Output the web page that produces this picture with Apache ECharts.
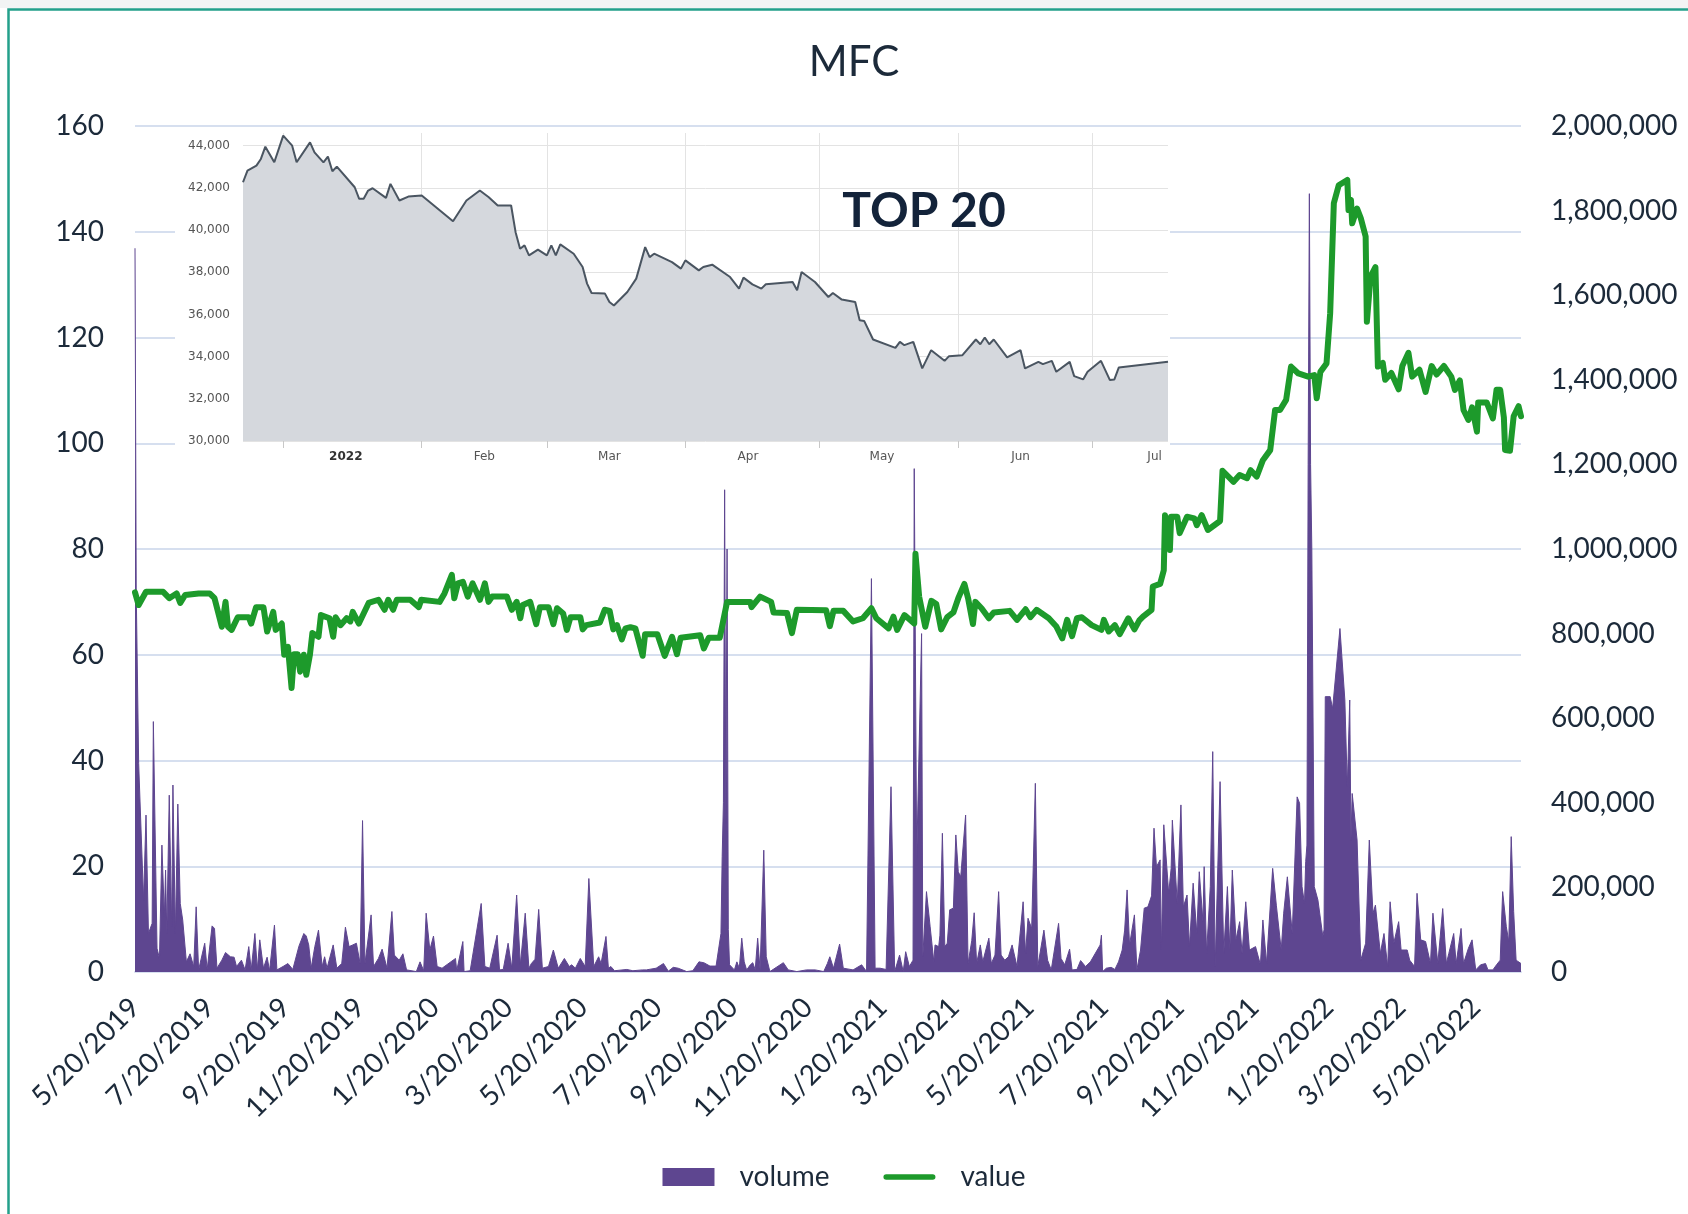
<!DOCTYPE html>
<html>
<head>
<meta charset="utf-8">
<title>MFC</title>
<script src="https://cdn.jsdelivr.net/npm/echarts@6/dist/echarts.min.js"></script>
<style>
  html, body { margin: 0; padding: 0; background: #fff; }
  #chart { width: 1688px; height: 1214px; }
</style>
</head>
<body>
<div id="chart"></div>
<script>
// main chart: one category per calendar day, 5/20/2019 .. 7/6/2022
const startDay = Date.UTC(2019, 4, 20);
const dayCount = 1134;
const labelMonths = [1, 3, 5, 7, 9, 11]; // x labels on the 20th of these months

// value (left axis) - day offset / value
const valueDays = [0,3,9,23,28,34,37,41,52,61,65,71,74,76,79,84,93,95,99,105,
  108,113,115,120,122,125,128,130,133,135,138,140,143,145,150,152,159,162,164,168,
  173,176,178,183,191,199,204,207,211,214,225,232,234,249,253,259,261,264,268,272,
  276,282,286,289,292,304,308,312,315,317,323,328,331,338,342,345,350,353,356,364,
  366,369,380,384,388,391,394,398,401,405,409,415,417,427,433,439,443,446,462,465,
  469,478,484,503,504,511,520,522,533,537,541,565,568,571,579,587,595,602,606,616,
  620,623,629,637,638,641,646,651,655,659,664,669,673,678,681,685,687,692,698,702,
  715,721,728,732,737,747,753,758,762,766,770,774,782,790,792,796,801,805,812,817,
  821,824,831,832,838,841,842,846,847,852,854,860,866,868,872,877,887,889,898,903,
  909,912,917,922,928,932,936,941,945,951,959,964,966,969,974,977,980,984,991,992,
  994,995,999,1002,1006,1007,1010,1014,1016,1020,1022,1027,1033,1036,1041,1044,1050,1055,1060,1064,
  1070,1076,1079,1083,1086,1090,1093,1097,1098,1105,1110,1113,1116,1119,1120,1124,1127,1131,1133];
const valueVals = [71.8,69.4,71.9,71.9,70.7,71.6,69.8,71.3,71.6,71.6,70.7,65.3,70.0,65.3,64.7,67.1,67.1,65.9,69.0,69.0,
  64.4,68.1,64.7,65.9,60.0,61.5,53.7,60.1,60.1,56.8,60.0,56.2,60.0,64.1,63.4,67.5,66.9,63.4,67.1,65.6,
  66.9,66.3,68.1,65.9,69.8,70.4,68.5,70.4,68.5,70.4,70.4,69.0,70.4,70.0,71.6,75.1,70.7,73.5,73.8,71.0,
  73.5,70.4,73.5,70.0,71.0,71.0,68.5,70.0,66.9,69.4,70.0,65.8,69.0,69.0,65.8,68.8,67.8,64.7,67.1,67.1,
  64.8,65.6,66.1,68.5,68.3,64.8,65.6,62.9,65.0,65.2,65.0,59.8,63.9,63.9,59.8,63.4,60.1,63.2,63.7,61.2,
  63.2,63.2,70.0,70.0,69.0,71.0,70.0,68.0,67.9,64.1,68.5,68.4,65.4,68.3,68.3,66.3,66.9,68.8,66.9,65.0,
  67.2,64.7,67.5,65.9,79.1,71.0,65.3,70.2,69.6,64.8,67.1,68.0,70.7,73.4,70.7,65.8,70.0,68.8,66.9,68.0,
  68.3,66.6,68.6,67.1,68.5,66.9,65.4,63.1,66.6,63.5,66.9,67.1,65.6,64.7,66.6,64.4,65.6,63.9,66.9,64.8,
  66.5,67.2,68.5,72.9,73.4,76.0,86.4,79.8,86.1,86.1,83.0,86.1,85.8,84.5,86.4,83.6,85.3,94.8,92.7,94.0,
  93.4,94.9,93.7,96.8,98.7,106.3,106.3,108.2,114.5,113.2,112.6,112.9,108.5,113.5,115.1,124.6,145.4,148.8,149.8,144.1,
  146.0,141.6,144.4,142.6,139.1,123.0,131.5,133.3,114.5,115.2,112.0,113.3,110.2,114.6,117.1,112.6,113.9,109.7,114.6,113.0,
  114.6,112.6,110.1,111.9,106.3,104.4,106.8,102.2,107.7,107.7,104.7,110.1,110.1,104.9,98.7,98.6,105.1,107.0,105.1];

// volume (right axis) - day offset / thousands of shares
const volumeDays = [0,1,3,7,9,11,14,15,18,20,22,24,25,26,28,30,31,33,35,37,
  39,42,45,48,50,52,57,59,63,65,67,71,74,78,81,83,87,90,93,95,
  98,100,102,105,108,110,114,116,121,125,129,134,138,140,142,144,147,150,153,155,
  157,162,165,169,172,175,178,181,184,186,188,193,195,199,202,206,210,212,216,219,
  222,230,233,236,238,241,244,247,251,262,263,268,269,274,283,286,290,296,298,301,
  305,308,312,315,319,322,324,327,330,333,338,342,346,351,355,357,360,364,368,371,
  375,379,381,385,387,389,392,402,407,415,418,426,432,436,440,444,451,456,461,465,
  470,475,479,480,481,482,483,484,485,486,490,492,494,496,498,500,503,505,507,509,
  511,514,516,519,530,534,541,549,556,563,566,568,571,576,579,587,594,598,602,605,
  609,614,618,621,625,628,630,633,636,637,639,643,644,647,650,653,654,657,658,660,
  662,664,666,669,671,673,675,679,681,684,686,688,691,693,698,700,703,706,708,711,
  714,717,721,726,728,730,733,736,738,743,746,749,755,757,760,764,766,770,773,777,
  781,789,790,791,794,798,801,804,807,809,811,813,817,819,822,825,828,831,833,835,
  838,839,841,845,847,848,852,855,857,860,862,865,868,870,873,874,876,879,881,883,
  887,890,893,895,897,900,903,905,908,911,916,920,922,925,930,933,937,939,942,946,
  950,952,954,956,957,958,959,960,961,962,964,967,971,972,973,977,979,985,989,991,
  993,994,995,999,1002,1006,1009,1012,1014,1018,1021,1024,1026,1029,1033,1035,1040,1042,1046,1048,
  1051,1055,1059,1061,1065,1069,1072,1074,1078,1080,1084,1086,1090,1093,1096,1100,1104,1106,1110,1113,
  1116,1118,1121,1123,1125,1127,1129,1133];
const volumeK = [1711,900,493,170,371,91,115,592,56,32,300,131,241,91,418,107,442,91,397,162,
  123,24,43,13,154,5,68,6,109,103,9,28,46,36,35,13,28,5,60,5,
  91,6,76,9,35,3,111,5,13,20,6,61,91,85,64,9,60,99,13,36,
  9,64,9,20,106,60,64,68,20,358,20,135,13,32,54,9,143,40,28,43,
  5,1,24,3,139,52,85,13,9,32,3,72,1,3,162,13,9,87,5,6,
  68,9,182,17,139,9,20,30,148,9,13,52,9,32,13,17,9,32,13,221,
  13,36,20,84,9,13,3,6,3,5,5,9,20,2,11,9,1,3,24,22,
  14,14,91,273,400,1140,350,1000,100,17,5,24,9,80,24,5,17,22,5,80,
  5,288,36,1,22,5,1,5,5,1,20,36,9,66,9,5,17,1,930,9,
  9,6,438,1,40,1,48,13,28,1190,265,800,36,190,107,24,64,60,87,328,
  60,68,147,151,324,237,225,371,20,74,140,20,64,24,80,20,40,190,40,28,
  36,64,13,166,44,127,103,446,13,99,28,5,115,32,17,54,5,6,27,13,
  24,64,87,1,9,11,6,24,52,99,194,64,135,5,52,151,154,180,340,249,
  265,52,348,186,245,359,162,395,154,182,60,210,91,237,119,249,44,202,521,13,
  450,44,202,52,241,76,119,44,166,52,60,17,123,20,245,158,52,139,225,91,
  414,399,202,162,261,300,1200,1840,1200,1000,202,170,84,100,651,651,623,812,643,438,
  643,312,422,312,28,68,312,139,158,44,91,13,166,68,119,52,52,28,13,186,
  76,72,20,139,20,150,20,44,91,20,103,20,56,76,5,17,20,5,5,17,
  28,190,107,72,320,143,28,20];

// inset "TOP 20" picture: one category per day, 12/23/2021 .. 7/18/2022
const insetStart = Date.UTC(2021, 11, 23);
const insetCount = 208;
const insetMonthNames = ['2022', 'Feb', 'Mar', 'Apr', 'May', 'Jun', 'Jul'];
// day offset from 1/1/2022 / index level
const insetDays = [-9,-8,-6,-5,-4,-2,0,2,3,6,7,9,10,11,12,16,17,18,19,20,
  23,24,26,28,31,38,41,44,46,48,51,52,53,54,55,57,59,60,61,62,
  65,67,68,69,72,73,74,77,79,81,82,83,87,89,90,93,94,96,100,102,
  103,105,107,108,114,115,116,119,122,123,125,128,129,130,132,137,138,139,141,143,
  145,148,149,152,155,156,157,158,159,162,165,166,169,170,172,173,176,177,179,180,
  183,185,186,187,198];
const insetVals = [42265,42818,43054,43370,43953,43211,44473,44000,43211,44157,43683,43211,43480,42785,43007,42028,41479,41479,41872,41981,
  41527,42189,41400,41588,41636,40420,41400,41872,41555,41163,41163,39900,39115,39271,38798,39068,38798,39271,38798,39318,
  38878,38245,37460,37016,36987,36590,36420,37063,37696,39190,38717,38878,38481,38170,38562,38088,38245,38358,37772,37223,
  37743,37426,37223,37426,37536,37143,38008,37536,36826,37016,36703,36590,35725,35692,34812,34414,34698,34542,34698,33440,
  34306,33800,34022,34069,34812,34589,34906,34589,34812,33960,34306,33440,33752,33643,33800,33280,33752,33076,32920,33279,
  33800,32887,32920,33487,33752];

const navy = '#1c2a3a';
const font = 'Lato';
const DAY = 86400000;

const dates = [];
for (let i = 0; i < dayCount; i++) dates.push(new Date(startDay + i * DAY));
const categories = dates.map(d => (d.getUTCMonth() + 1) + '/' + d.getUTCDate() + '/' + d.getUTCFullYear());
const isLabelDay = i => dates[i].getUTCDate() === 20 && labelMonths.indexOf(dates[i].getUTCMonth() + 1) >= 0;

const insetDates = [];
for (let i = 0; i < insetCount; i++) insetDates.push(new Date(insetStart + i * DAY));
const insetCats = insetDates.map(d => d.toISOString().slice(0, 10));
const insetOffset = 9; // index of 1/1/2022

const valueData = valueDays.map((d, i) => [d, valueVals[i]]);
const volumeData = volumeDays.map((d, i) => [d, volumeK[i] * 1000]);
const insetData = insetDays.map((d, i) => [d + insetOffset, insetVals[i]]);

const chart = echarts.init(document.getElementById('chart'));

const option = {
  backgroundColor: '#fff',
  animation: false,
  title: {
    text: 'MFC',
    left: 849,
    textAlign: 'center',
    top: 36,
    textStyle: { fontFamily: font, fontSize: 42, fontWeight: 'normal', color: navy }
  },
  legend: {
    top: 1158,
    left: 'center',
    itemWidth: 52,
    itemHeight: 18,
    itemGap: 54,
    textStyle: { fontFamily: font, fontSize: 28, color: navy, padding: [0, 0, 0, 20] },
    data: [
      { name: 'volume', icon: 'rect' },
      { name: 'value', icon: 'path://M3,0H53A3,3 0 0 1 53,6H3A3,3 0 0 1 3,0Z' }
    ]
  },
  grid: [
    { left: 135, right: 167, top: 126, bottom: 242 },
    { left: 243, top: 133, width: 925, height: 308 }
  ],
  xAxis: [
    {
      type: 'category',
      gridIndex: 0,
      data: categories,
      boundaryGap: false,
      axisLine: { lineStyle: { color: '#d6dfef', width: 2 } },
      axisTick: { show: false },
      splitLine: { show: false },
      axisLabel: {
        interval: (i) => isLabelDay(i),
        rotate: 45,
        margin: 31,
        fontFamily: font,
        fontSize: 28,
        color: navy
      }
    },
    {
      type: 'category',
      gridIndex: 1,
      data: insetCats,
      boundaryGap: false,
      z: 6,
      axisLine: { show: false },
      axisTick: {
        interval: (i) => insetDates[i].getUTCDate() === 1,
        length: 7,
        lineStyle: { color: '#c8c8c8' }
      },
      splitLine: {
        show: true,
        interval: (i) => insetDates[i].getUTCDate() === 1,
        lineStyle: { color: '#e3e3e3', width: 1 }
      },
      axisLabel: {
        interval: (i) => insetDates[i].getUTCDate() === 15,
        formatter: (v, i) => {
          const m = insetDates[i].getUTCMonth();
          return m === 0 ? '{b|' + insetMonthNames[0] + '}' : insetMonthNames[m];
        },
        margin: 10,
        fontFamily: 'DejaVu Sans',
        fontSize: 12,
        color: '#555',
        rich: { b: { fontWeight: 'bold', fontFamily: 'DejaVu Sans', fontSize: 12, color: '#333' } }
      }
    }
  ],
  yAxis: [
    {
      type: 'value',
      gridIndex: 0,
      min: 0,
      max: 160,
      interval: 20,
      axisLine: { show: false },
      axisTick: { show: false },
      splitLine: { lineStyle: { color: '#d6dfef', width: 2 } },
      axisLabel: { margin: 31, fontFamily: font, fontSize: 28, color: navy }
    },
    {
      type: 'value',
      gridIndex: 0,
      position: 'right',
      min: 0,
      max: 2000000,
      interval: 200000,
      axisLine: { show: false },
      axisTick: { show: false },
      splitLine: { show: false },
      axisLabel: {
        margin: 30,
        fontFamily: font,
        fontSize: 28,
        color: navy,
        formatter: v => v.toLocaleString('en-US')
      }
    },
    {
      type: 'value',
      gridIndex: 1,
      min: 30000,
      max: 44600,
      interval: 2000,
      z: 6,
      axisLine: { show: false },
      axisTick: { show: false },
      splitLine: {
        lineStyle: {
          color: ['#e3e3e3', '#e3e3e3', '#e3e3e3', '#e3e3e3', '#e3e3e3', '#e3e3e3', '#e3e3e3', '#e3e3e3', 'rgba(0,0,0,0)'],
          width: 1
        }
      },
      axisLabel: {
        margin: 13,
        fontFamily: 'DejaVu Sans',
        fontSize: 12,
        color: '#555',
        formatter: v => (v % 2000 === 0 ? v.toLocaleString('en-US') : '')
      }
    }
  ],
  graphic: [
    {
      type: 'rect',
      z: 0,
      silent: true,
      shape: { x: 0, y: 0, width: 1688, height: 8 },
      style: { fill: '#f2f4f4' }
    },
    {
      type: 'rect',
      z: 1,
      silent: true,
      shape: { x: 8.5, y: 9.5, width: 1700, height: 1220 },
      style: { fill: 'none', stroke: '#23a08b', lineWidth: 2.5 }
    },
    {
      type: 'rect',
      z: 5,
      silent: true,
      shape: { x: 175, y: 129, width: 995, height: 339 },
      style: { fill: '#fff' }
    },
    {
      type: 'text',
      z: 8,
      silent: true,
      x: 924,
      y: 212,
      style: {
        text: 'TOP 20',
        fontFamily: font,
        fontWeight: 'bold',
        fontSize: 48,
        fill: '#13233a',
        textAlign: 'center',
        textVerticalAlign: 'middle'
      }
    }
  ],
  series: [
    {
      name: 'volume',
      type: 'line',
      xAxisIndex: 0,
      yAxisIndex: 1,
      data: volumeData,
      symbol: 'none',
      showSymbol: false,
      itemStyle: { color: '#5e4690' },
      lineStyle: { color: '#5e4690', width: 1 },
      areaStyle: { color: '#5e4690', opacity: 1 },
      z: 2
    },
    {
      name: 'value',
      type: 'line',
      xAxisIndex: 0,
      yAxisIndex: 0,
      data: valueData,
      symbol: 'none',
      showSymbol: false,
      itemStyle: { color: '#1d9a2b' },
      lineStyle: { color: '#1d9a2b', width: 6, join: 'round', cap: 'round' },
      z: 3
    },
    {
      name: 'inset',
      type: 'line',
      xAxisIndex: 1,
      yAxisIndex: 2,
      data: insetData,
      symbol: 'none',
      showSymbol: false,
      lineStyle: { color: '#4a5561', width: 2 },
      areaStyle: { color: '#d5d8dd', opacity: 1, origin: 'start' },
      z: 7
    }
  ]
};

chart.setOption(option);
</script>
</body>
</html>
